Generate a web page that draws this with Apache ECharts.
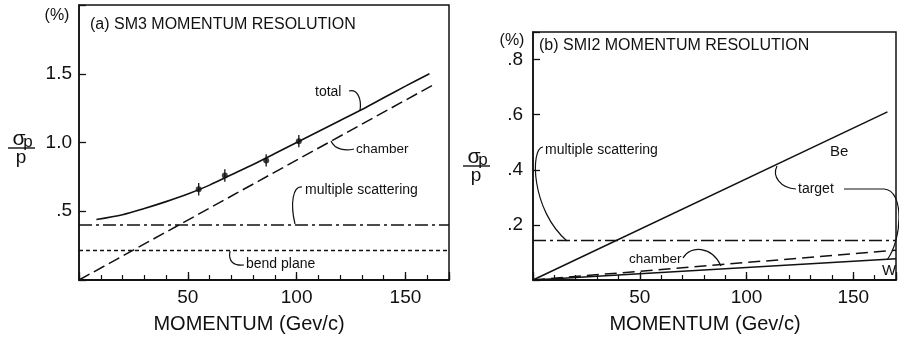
<!DOCTYPE html>
<html>
<head>
<meta charset="utf-8">
<script src="https://cdn.jsdelivr.net/npm/echarts@6/dist/echarts.min.js"></script>
<style>
html,body{margin:0;padding:0;background:#fff;}
#chart{width:899px;height:339px;}
</style>
</head>
<body>
<div id="chart"></div>
<script>
// ---------- data ----------
// Panel (a) SM3
const aTotalP = [8, 20, 30, 40, 50, 60, 70, 80, 90, 100, 110, 120, 130, 140, 150, 161];
const aTotalV = [0.44, 0.475, 0.52, 0.57, 0.625, 0.69, 0.765, 0.84, 0.92, 1.0, 1.08, 1.16, 1.24, 1.325, 1.41, 1.50];
const aPointsP = [55, 67, 86, 101];
const aPointsV = [0.66, 0.76, 0.87, 1.01];
const aPointsErr = [0.045, 0.045, 0.045, 0.045];
const aChamberP = [0, 164];
const aChamberV = [0, 1.43];
const aMsP = [0, 170];
const aMsV = [0.40, 0.40];
const aBendP = [0, 170];
const aBendV = [0.215, 0.215];
// Panel (b) SMI2
const bBeP = [0, 166];
const bBeV = [0, 0.61];
const bMsP = [0, 170];
const bMsV = [0.143, 0.143];
const bChamberP = [0, 170];
const bChamberV = [0, 0.108];
const bWP = [0, 170];
const bWV = [0, 0.077];
// tick labels
const xTickValues = [50, 100, 150];
const xTickLabels = ['50', '100', '150'];
const aYTickValues = [0.5, 1.0, 1.5];
const aYTickLabels = ['.5', '1.0', '1.5'];
const bYTickValues = [0.2, 0.4, 0.6, 0.8];
const bYTickLabels = ['.2', '.4', '.6', '.8'];

// ---------- helpers ----------
const INK = '#111';
const FONT = 'Liberation Sans';
const zip = (xs, ys) => xs.map((x, i) => [x, ys[i]]);
const lookup = (vals, labels) => v => {
  for (let i = 0; i < vals.length; i++) if (Math.abs(vals[i] - v) < 1e-6) return labels[i];
  return '';
};

function xAxes(grid) {
  return [
    {
      gridIndex: grid, type: 'value', min: 0, max: 170, interval: 50, position: 'bottom',
      axisLine: {onZero: false, lineStyle: {color: INK, width: 1.5}},
      axisTick: {inside: true, length: 8, lineStyle: {color: INK, width: 1.3}},
      axisLabel: {formatter: lookup(xTickValues, xTickLabels), fontSize: 19, margin: 8, color: INK, fontFamily: FONT},
      splitLine: {show: false}
    },
    {
      gridIndex: grid, type: 'value', min: 0, max: 170, interval: 10, position: 'bottom',
      axisLine: {show: true, onZero: false, lineStyle: {color: INK, width: 1.5}},
      axisTick: {show: true, inside: true, length: 5, lineStyle: {color: INK, width: 1.2}},
      axisLabel: {show: false},
      splitLine: {show: false}
    }
  ];
}

function line(name, xi, yi, data, type, width) {
  return {
    name, type: 'line', xAxisIndex: xi, yAxisIndex: yi, data,
    showSymbol: false, symbol: 'none', silent: true, animation: false,
    lineStyle: {color: INK, width: width || 1.5, type: type || 'solid'}
  };
}

const chart = echarts.init(document.getElementById('chart'), null, {renderer: 'canvas'});

const option = {
  backgroundColor: '#fff',
  animation: false,
  grid: [
    {left: 79, top: 5, width: 370, height: 275, show: true, borderColor: INK, borderWidth: 1.5, backgroundColor: 'transparent'},
    {left: 533, top: 32, width: 369, height: 248, show: true, borderColor: INK, borderWidth: 1.5, backgroundColor: 'transparent'}
  ],
  xAxis: [...xAxes(0), ...xAxes(1)],
  yAxis: [
    {
      gridIndex: 0, type: 'value', min: 0, max: 2.0, interval: 0.5,
      axisLine: {onZero: false, lineStyle: {color: INK, width: 1.5}},
      axisTick: {inside: true, length: 7, lineStyle: {color: INK, width: 1.3}},
      axisLabel: {formatter: lookup(aYTickValues, aYTickLabels), fontSize: 19, margin: 7, color: INK, fontFamily: FONT},
      splitLine: {show: false}
    },
    {
      gridIndex: 1, type: 'value', min: 0, max: 0.9, interval: 0.2,
      axisLine: {onZero: false, lineStyle: {color: INK, width: 1.5}},
      axisTick: {inside: true, length: 7, lineStyle: {color: INK, width: 1.3}},
      axisLabel: {formatter: lookup(bYTickValues, bYTickLabels), fontSize: 19, margin: 10, color: INK, fontFamily: FONT},
      splitLine: {show: false}
    }
  ],
  series: [
    Object.assign(line('total', 0, 0, zip(aTotalP, aTotalV), 'solid', 1.6), {smooth: 0.3}),
    line('chamber', 0, 0, zip(aChamberP, aChamberV), [12, 5], 1.5),
    line('multiple scattering', 0, 0, zip(aMsP, aMsV), [13, 4, 3, 4], 1.5),
    line('bend plane', 0, 0, zip(aBendP, aBendV), [4, 3], 1.5),
    {
      name: 'data', type: 'scatter', xAxisIndex: 0, yAxisIndex: 0,
      data: zip(aPointsP, aPointsV), symbol: 'circle', symbolSize: 6,
      itemStyle: {color: INK}, silent: true, animation: false
    },
    {
      name: 'errors', type: 'custom', xAxisIndex: 0, yAxisIndex: 0, silent: true, animation: false,
      data: aPointsP.map((p, i) => [p, aPointsV[i] - aPointsErr[i], aPointsV[i] + aPointsErr[i]]),
      renderItem: (params, api) => {
        const lo = api.coord([api.value(0), api.value(1)]);
        const hi = api.coord([api.value(0), api.value(2)]);
        return {type: 'line', shape: {x1: lo[0], y1: lo[1], x2: hi[0], y2: hi[1]}, style: {stroke: INK, lineWidth: 1.3}};
      }
    },
    line('Be', 2, 1, zip(bBeP, bBeV), 'solid', 1.5),
    line('multiple scattering b', 2, 1, zip(bMsP, bMsV), [13, 4, 3, 4], 1.5),
    line('chamber b', 2, 1, zip(bChamberP, bChamberV), [12, 6], 1.5),
    line('W', 2, 1, zip(bWP, bWV), 'solid', 1.5)
  ]
};
chart.setOption(option);

// ---------- annotations (text + leader curves) ----------
const T = (text, x, y, size, align) => ({
  type: 'text', silent: true,
  style: {text, x, y, font: `${size}px "${FONT}"`, fill: INK, textAlign: align || 'left', textVerticalAlign: 'middle'}
});
const C = (x1, y1, cpx1, cpy1, cpx2, cpy2, x2, y2) => ({
  type: 'bezierCurve', silent: true,
  shape: {x1, y1, cpx1, cpy1, cpx2, cpy2, x2, y2},
  style: {stroke: INK, lineWidth: 1.2, fill: null}
});
const L = (x1, y1, x2, y2, w) => ({
  type: 'line', silent: true, shape: {x1, y1, x2, y2}, style: {stroke: INK, lineWidth: w || 1.2}
});

chart.setOption({
  graphic: {elements: [
    // panel (a)
    T('(%)', 57, 16, 16, 'center'),
    T('(a) SM3 MOMENTUM RESOLUTION', 90, 25, 16),
    T('σ', 19, 139, 21, 'center'), T('p', 28, 142, 17, 'center'),
    L(8, 148, 35, 148, 1.4),
    T('p', 21, 158, 19, 'center'),
    T('MOMENTUM (Gev/c)', 249, 324, 20, 'center'),
    T('total', 315, 92, 14),
    C(349, 91, 357, 89, 362, 98, 360, 111),
    T('chamber', 356, 149, 13.5),
    C(331, 141, 335, 150, 346, 151, 354, 149),
    T('multiple scattering', 305, 190, 14),
    C(302, 187, 293, 186, 290, 203, 295, 224),
    T('bend plane', 246, 264, 14),
    C(230, 251, 228, 262, 234, 266, 244, 265),
    // panel (b)
    T('(%)', 512, 41, 16, 'center'),
    T('(b) SMI2 MOMENTUM RESOLUTION', 539, 46, 16),
    T('σ', 474, 157, 21, 'center'), T('p', 483, 160, 17, 'center'),
    L(463, 166, 490, 166, 1.4),
    T('p', 476, 176, 19, 'center'),
    T('MOMENTUM (Gev/c)', 705, 324, 20, 'center'),
    T('multiple scattering', 545, 150, 14),
    C(543, 147, 530, 148, 531, 210, 567, 241),
    T('Be', 830, 152, 15),
    T('target', 798, 189, 14),
    C(796, 189, 780, 188, 772, 176, 777, 166),
    L(844, 189, 884, 189),
    C(884, 189, 905, 190, 902, 240, 887, 260),
    T('W', 889, 271, 15, 'center'),
    T('chamber', 629, 259, 13.5),
    C(683, 258, 690, 245, 712, 246, 721, 266)
  ]}
});
</script>
</body>
</html>
